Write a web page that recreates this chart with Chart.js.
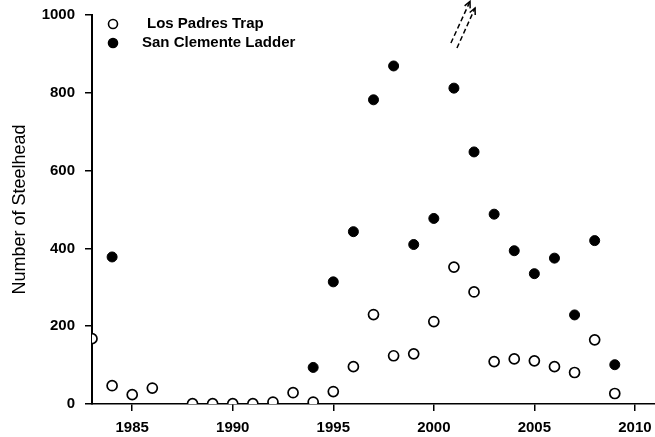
<!DOCTYPE html>
<html>
<head>
<meta charset="utf-8">
<script src="https://cdn.jsdelivr.net/npm/chart.js@4.4.1/dist/chart.umd.min.js"></script>
<style>
	body { margin: 0; background: #fff; }
	canvas { display: block; }
</style>
</head>
<body>
<canvas id="steelhead" width="655" height="437"></canvas>
<script>

// years and counts
var padresYears  = [1983, 1984, 1985, 1986, 1988, 1989, 1990, 1991, 1992, 1993, 1994, 1995, 1996, 1997, 1998, 1999, 2000, 2001, 2002, 2003, 2004, 2005, 2006, 2007, 2008, 2009];
var padresCounts = [168, 47, 24, 41, 1, 1, 1, 1, 5, 29, 5, 32, 96, 230, 124, 129, 212, 352, 288, 109, 116, 111, 96, 81, 165, 27];

var clementeYears  = [1984, 1994, 1995, 1996, 1997, 1998, 1999, 2000, 2001, 2002, 2003, 2004, 2005, 2006, 2007, 2008, 2009];
var clementeCounts = [378, 94, 314, 443, 782, 869, 410, 477, 812, 648, 488, 394, 335, 375, 229, 420, 101];

var xTicks = [1985, 1990, 1995, 2000, 2005, 2010];
var yTicks = [0, 200, 400, 600, 800, 1000];

function toPoints(xs, ys){
	return xs.map(function(x, i){ return { x: x, y: ys[i] }; });
}

// legend drawn inside the plot, top left
var insideLegend = {
	id: 'insideLegend',
	afterDraw: function(chart){
		var ctx = chart.ctx;
		var area = chart.chartArea;
		ctx.save();
		ctx.font = 'bold 15px "Liberation Sans", Arial, sans-serif';
		ctx.textBaseline = 'middle';
		chart.data.datasets.forEach(function(ds, i){
			var y = area.top + 9 + i * 19;
			ctx.beginPath();
			ctx.arc(area.left + 21, y, 4.5, 0, Math.PI * 2);
			ctx.fillStyle = ds.backgroundColor;
			ctx.fill();
			ctx.lineWidth = 1.6;
			ctx.strokeStyle = '#000';
			ctx.stroke();
			ctx.fillStyle = '#000';
			ctx.fillText(ds.label, area.left + 55 - (i ? 5 : 0), y);
		});
		ctx.restore();
	}
};

// the two dashed "off scale" arrows near 2001
var offScale = {
	id: 'offScale',
	afterDraw: function(chart){
		var xs = chart.scales.x, ys = chart.scales.y, ctx = chart.ctx;
		var arrows = [[2000.85, 928, 2001.8, 1035], [2001.15, 915, 2002.05, 1018]];
		ctx.save();
		ctx.strokeStyle = '#000';
		ctx.lineWidth = 1.5;
		arrows.forEach(function(a){
			var x1 = xs.getPixelForValue(a[0]), y1 = ys.getPixelForValue(a[1]);
			var x2 = xs.getPixelForValue(a[2]), y2 = ys.getPixelForValue(a[3]);
			ctx.setLineDash([5, 3]);
			ctx.beginPath();
			ctx.moveTo(x1, y1);
			ctx.lineTo(x2, y2);
			ctx.stroke();
			ctx.setLineDash([]);
			var ang = Math.atan2(y2 - y1, x2 - x1);
			ctx.beginPath();
			ctx.moveTo(x2 - 7 * Math.cos(ang - 0.45), y2 - 7 * Math.sin(ang - 0.45));
			ctx.lineTo(x2, y2);
			ctx.lineTo(x2 - 7 * Math.cos(ang + 0.45), y2 - 7 * Math.sin(ang + 0.45));
			ctx.stroke();
		});
		ctx.restore();
	}
};

var chart_scatter_settings = {
	type: 'scatter',
	data: {
		datasets: [{
			label: 'Los Padres Trap',
			data: toPoints(padresYears, padresCounts),
			backgroundColor: '#fff',
			borderColor: '#000',
			borderWidth: 1.7,
			pointRadius: 5,
			pointHoverRadius: 5
		}, {
			label: 'San Clemente Ladder',
			data: toPoints(clementeYears, clementeCounts),
			backgroundColor: '#000',
			borderColor: '#000',
			borderWidth: 1,
			pointRadius: 5,
			pointHoverRadius: 5
		}]
	},
	options: {
		responsive: false,
		animation: false,
		layout: { autoPadding: false, padding: { top: 15, right: 0, bottom: 0, left: 0 } },
		plugins: {
			legend: { display: false },
			tooltip: { enabled: false }
		},
		scales: {
			x: {
				type: 'linear',
				min: 1983,
				max: 2011,
				afterBuildTicks: function(scale){
					scale.ticks = xTicks.map(function(v){ return { value: v }; });
				},
				afterFit: function(scale){
					scale.height = 33;
					scale.paddingLeft = 0;
					scale.paddingRight = 0;
				},
				border: { display: true, color: '#000', width: 1.5 },
				grid: { drawOnChartArea: false, drawTicks: true, tickLength: 7, color: '#000', lineWidth: 1.5 },
				ticks: {
					color: '#000',
					padding: 8,
					maxRotation: 0,
					font: { family: '"Liberation Sans", Arial, sans-serif', size: 15, weight: 'bold' },
					callback: function(v){ return String(v); }
				}
			},
			y: {
				min: 0,
				max: 1000,
				afterBuildTicks: function(scale){
					scale.ticks = yTicks.map(function(v){ return { value: v }; });
				},
				afterFit: function(scale){
					scale.width = 92;
					scale.paddingTop = 0;
					scale.paddingBottom = 0;
				},
				border: { display: true, color: '#000', width: 2 },
				grid: { drawOnChartArea: false, drawTicks: true, tickLength: 7, color: '#000', lineWidth: 1.5 },
				title: {
					display: true,
					text: 'Number of Steelhead',
					color: '#000',
					padding: { top: 9, bottom: 0 },
					font: { family: '"Liberation Sans", Arial, sans-serif', size: 18, weight: 'normal' }
				},
				ticks: {
					color: '#000',
					padding: 10,
					font: { family: '"Liberation Sans", Arial, sans-serif', size: 15, weight: 'bold' },
					callback: function(v){ return String(v); }
				}
			}
		}
	},
	plugins: [insideLegend, offScale]
};

var chart_element = document.getElementById('steelhead');
var chart_scatter = new Chart(chart_element, chart_scatter_settings);

</script>
</body>
</html>
